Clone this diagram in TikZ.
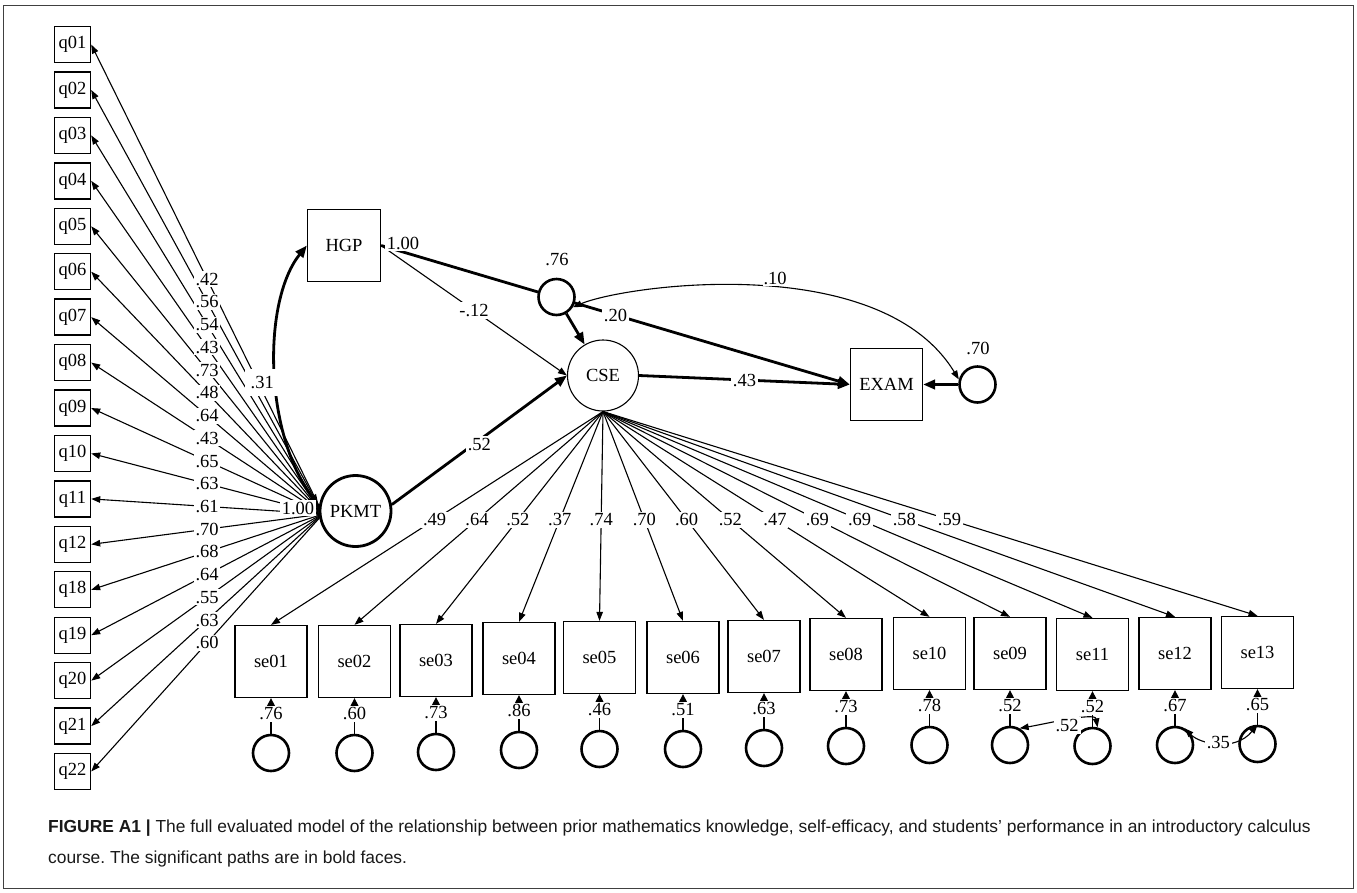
\documentclass[tikz,border=0pt]{standalone}
\usepackage{fontspec}
\setmainfont{Liberation Serif}
\newfontfamily\capfont{Liberation Sans}
\usetikzlibrary{arrows.meta}
\pgfdeclarelayer{paper}
\pgfdeclarelayer{edges}
\pgfsetlayers{paper,edges,main}

\tikzset{
  txt/.style={font=\fontsize{18.5}{21}\selectfont},
  qbox/.style={txt, draw, line width=1.4pt, minimum width=36pt, minimum height=36pt, inner sep=0pt, fill=white},
  obs/.style={txt, draw, line width=1.3pt, minimum width=72pt, minimum height=72pt, inner sep=0pt, fill=white},
  latent/.style={txt, circle, draw, minimum size=71pt, inner sep=0pt, fill=white},
  errc/.style={circle, draw, line width=2.6pt, minimum size=36pt, inner sep=0pt, fill=white},
  lbl/.style={txt, fill=white, inner sep=1.8pt},
  thinpath/.style={line width=1.1pt, -{Triangle[length=9pt,width=6.5pt]}},
  thickpath/.style={line width=2.8pt, -{Triangle[length=12pt,width=9.5pt]}},
  covthin/.style={line width=1.1pt, {Triangle[length=9pt,width=6.5pt]}-{Triangle[length=9pt,width=6.5pt]}},
  covthick/.style={line width=2.8pt, {Triangle[length=12pt,width=9.5pt]}-{Triangle[length=12pt,width=9.5pt]}},
  errpath/.style={line width=1.2pt, -{Triangle[length=8pt,width=8pt]}},
  captext/.style={font=\capfont\fontsize{17.4}{20}\selectfont, text=black!90, inner sep=0pt, anchor=base west}
}

\begin{document}
\frenchspacing
\begin{tikzpicture}[x=1pt,y=-1pt]
\useasboundingbox (0,0) rectangle (1357,892);
\begin{pgfonlayer}{paper}
  \fill[white] (0,0) rectangle (1357,892);
  \draw[line width=1.2pt, black!75] (3.5,5.5) rectangle (1353.5,888.5);
\end{pgfonlayer}

% ---- indicator boxes of PKMT
\foreach \n [count=\i from 0] in {01,02,03,04,05,06,07,08,09,10,11,12,18,19,20,21,22}
  \node[qbox] (q\n) at (72.5,{44.5+45.44*\i}) {q\n};

% ---- latent variables and single indicators
\node[latent, line width=2.8pt] (PKMT) at (355.5,511) {PKMT};
\node[latent, line width=1.1pt] (CSE) at (603,375.5) {CSE};
\node[obs, minimum width=73pt] (HGP) at (344,245.5) {HGP};
\node[obs] (EXAM) at (886.5,384.5) {EXAM};
\node[errc] (e76) at (556.5,297) {};
\node[errc] (e70) at (977.5,384.5) {};
\coordinate (Pq) at (323,514);

% ---- indicator boxes of CSE with their error terms
\foreach \n/\x/\t in {01/271/625,02/354.5/625,03/436/624,04/519/622,05/599.5/621,06/683/621,07/764/620,08/846/618,10/929.5/617,09/1010/617,11/1092.5/618,12/1175/617,13/1257.5/616} {
  \node[obs] (se\n) at (\x,{\t+36.5}) {se\n};
  \node[errc] (e\n) at (\x,{\t+128}) {};
}

% ---- paths
\begin{pgfonlayer}{edges}
  \foreach \n in {01,02,03,04,05,06,07,08,09,10,11,12,18,19,20,21,22}
    \draw[thinpath] (Pq) -- (q\n.east);
  \foreach \n in {01,02,03,04,05,06,07,08,10,09,11,12,13} {
    \draw[thinpath] (CSE.south) -- (se\n.north);
    \draw[errpath] (e\n.north) -- (se\n.south);
  }
  \draw[covthick] (PKMT.173) .. controls (263,430) and (263,300) .. (HGP.west);
  \draw[thickpath] (PKMT.10) -- (CSE.west);
  \draw[thinpath] (HGP.east) -- (CSE.west);
  \draw[thickpath] (HGP.east) -- (EXAM.west);
  \draw[thickpath] (CSE.east) -- (EXAM.west);
  \draw[thickpath] (e76) -- (CSE);
  \draw[thickpath] (e70) -- (EXAM);
  \draw[covthin] (e76.-32) .. controls (625,285) and (880,250) .. (e70.165);
\end{pgfonlayer}

% ---- error covariances among the CSE items
\draw[covthin] (e09.60) .. controls (1045,724) and (1095,712) .. (e11.75)
  node[lbl, pos=0.5, yshift=-5pt] {.52};
\draw[covthin] (e12.60) .. controls (1200,744) and (1235,752) .. (e13.north)
  node[lbl, pos=0.5] {.35};

% ---- coefficients
\foreach \n/\v in {01/.42,02/.56,03/.54,04/.43,05/.73,06/.48,07/.64,08/.43,09/.65,10/.63,11/.61,12/.70,18/.68,19/.64,20/.55,21/.63,22/.60}
  \path (Pq) -- (q\n.east) node[lbl, pos=0.5] {\v};
\foreach \n/\t/\lo/\ev in {01/625/.49/.76,02/625/.64/.60,03/624/.52/.73,04/622/.37/.86,05/621/.74/.46,06/621/.70/.51,07/620/.60/.63,08/618/.52/.73,10/617/.47/.78,09/617/.69/.52,11/618/.69/.52,12/617/.58/.67,13/616/.59/.65} {
  \pgfmathsetmacro\pp{108/(\t-412)}
  \path (CSE.south) -- (se\n.north) node[lbl, pos=\pp] {\lo};
  \path (e\n.north) -- (se\n.south) node[lbl, pos=0.56] {\ev};
}
\path (PKMT.173) .. controls (263,430) and (263,300) .. (HGP.west)
  node[lbl, pos=0.45, xshift=-14pt, inner xsep=6pt, inner ysep=7pt] {.31};
\path (PKMT.10) -- (CSE.west) node[lbl, pos=0.5, yshift=-4pt] {.52};
\path (HGP.east) -- (CSE.west) node[lbl, pos=0.5] {-.12};
\path (HGP.east) -- (EXAM.west) node[lbl, pos=0.5] {.20};
\path (CSE.east) -- (EXAM.west) node[lbl, pos=0.5] {.43};
\path (e76.-32) .. controls (625,285) and (880,250) .. (e70.165)
  node[lbl, pos=0.54, above, inner sep=1pt, yshift=2pt] {.10};
\node[lbl] (vPKMT) at (298,508) {1.00};
\node[lbl] (vHGP) at (403,243) {1.00};
\node[lbl] (r76) at (557,260) {.76};
\node[lbl] (r70) at (978,348) {.70};

% ---- caption
\node[captext] (cap1) at (48,832) {\textbf{FIGURE A1} \textbf{|} The full evaluated model of the relationship between prior mathematics knowledge, self-efficacy, and students’ performance in an introductory calculus};
\node[captext] (cap2) at (48,863) {course. The significant paths are in bold faces.};
\end{tikzpicture}
\end{document}
